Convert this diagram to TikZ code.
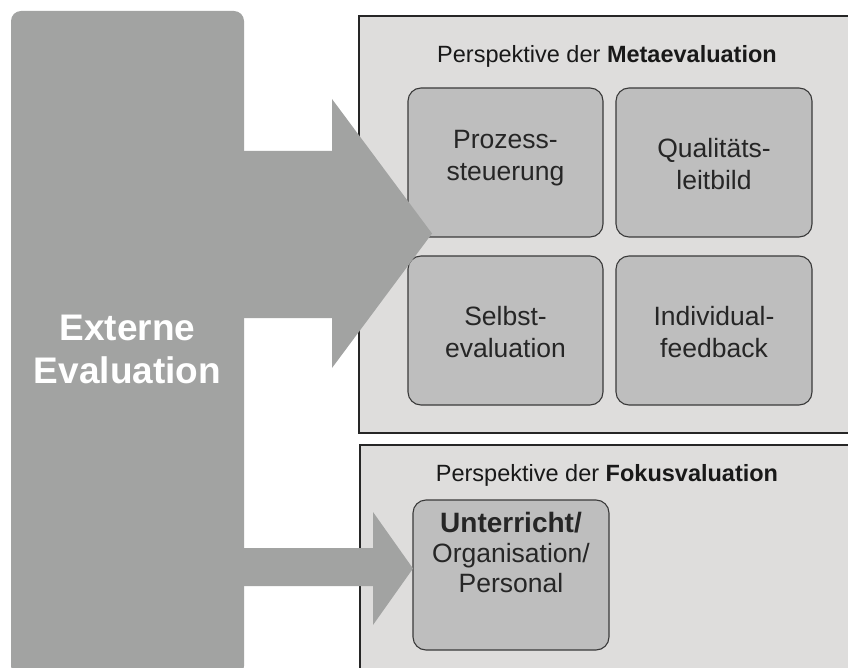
\documentclass[tikz,border=0pt]{standalone}
\usepackage{fontspec}
\setmainfont{Liberation Sans}
\definecolor{extgray}{HTML}{A2A3A2}
\definecolor{panel}{HTML}{DEDDDC}
\definecolor{inner}{HTML}{BEBEBE}
\definecolor{edge}{HTML}{3A3A3A}
\begin{document}
\begin{tikzpicture}[x=1pt,y=-1pt,
  panelbox/.style={draw=black!85,line width=1.6pt,fill=panel},
  innerbox/.style={draw=edge,line width=1.1pt,fill=inner,rounded corners=13pt},
  boxtext/.style={align=center,font=\fontsize{26.5}{32}\selectfont,text=black!85},
  titletext/.style={font=\fontsize{23.5}{28}\selectfont,text=black!90},
  arrowfill/.style={fill=extgray}]
\useasboundingbox (0,0) rectangle (848,668);
\clip (0,0) rectangle (848,668);
% panels
\draw[panelbox] (359,16) rectangle (860,433);
\draw[panelbox] (360,445) rectangle (860,690);
\node[titletext] (t1) at (607,56) {Perspektive der \textbf{Metaevaluation}};
\node[titletext] (t2) at (607,475) {Perspektive der \textbf{Fokusvaluation}};
% inner boxes
\draw[innerbox] (408,88) rectangle (603,237);
\draw[innerbox] (616,88) rectangle (812,237);
\draw[innerbox] (408,256) rectangle (603,405);
\draw[innerbox] (616,256) rectangle (812,405);
\draw[innerbox] (413,500) rectangle (609,650);
\node[boxtext] (b1) at (505.5,158) {Prozess-\\steuerung};
\node[boxtext] (b2) at (714,164) {Qualitäts-\\leitbild};
\node[boxtext] (b3) at (505.5,332) {Selbst-\\evaluation};
\node[boxtext] (b4) at (714,332) {Individual-\\feedback};
\node[align=center,text=black!85,font=\fontsize{26.5}{30}\selectfont] (b5) at (511,552) {{\fontsize{28}{30}\selectfont\bfseries Unterricht/}\\Organisation/\\Personal};
% arrows
\fill[arrowfill] (230,151) -- (332,151) -- (332,99) -- (432,233.5) -- (332,368) -- (332,318) -- (230,318) -- cycle;
\fill[arrowfill] (230,548) -- (373,548) -- (373,512) -- (413,568.5) -- (373,625) -- (373,586) -- (230,586) -- cycle;
% left block
\fill[extgray,rounded corners=10pt] (11,11) rectangle (244,676);
\node[align=center,text=white,font=\fontsize{37}{43}\selectfont\bfseries] (ext) at (127.5,349) {Externe\\Evaluation};
\end{tikzpicture}
\end{document}
